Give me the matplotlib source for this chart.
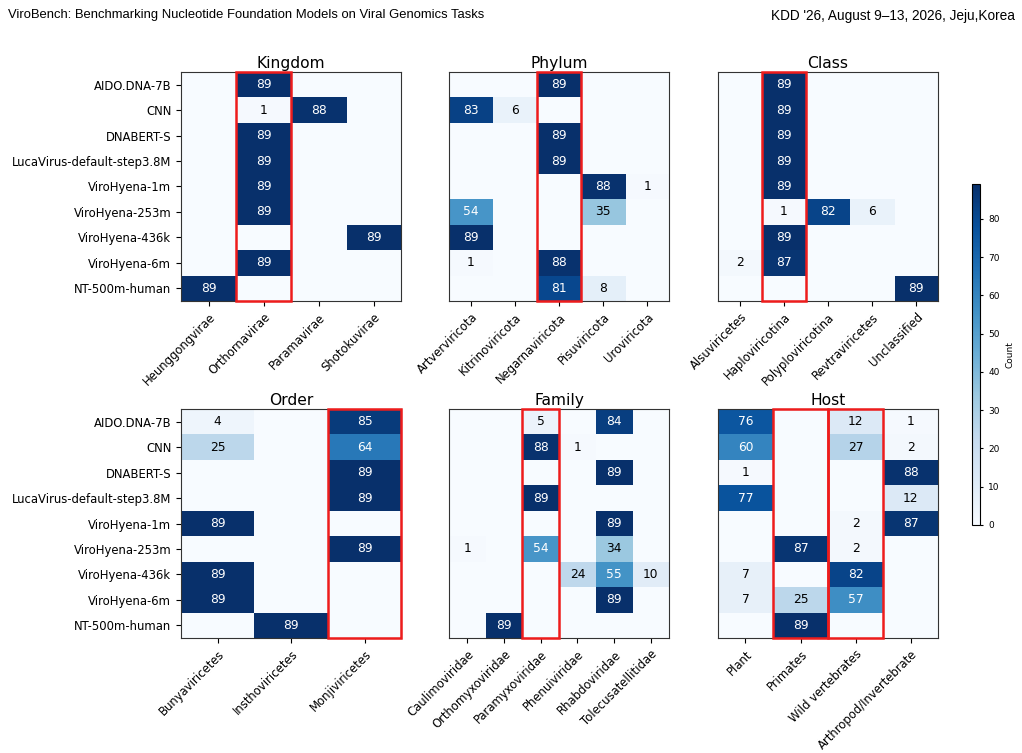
import matplotlib
matplotlib.use('Agg')
import matplotlib.pyplot as plt
import matplotlib.patches as patches
import numpy as np

# models (rows, shared by every panel)
models = ['AIDO.DNA-7B', 'CNN', 'DNABERT-S', 'LucaVirus-default-step3.8M',
          'ViroHyena-1m', 'ViroHyena-253m', 'ViroHyena-436k', 'ViroHyena-6m',
          'NT-500m-human']

# Kingdom
kingdom_cols = ['Heunggongvirae', 'Orthornavirae', 'Paramavirae', 'Shotokuvirae']
kingdom_vals = [[0, 89, 0, 0],
                [0, 1, 88, 0],
                [0, 89, 0, 0],
                [0, 89, 0, 0],
                [0, 89, 0, 0],
                [0, 89, 0, 0],
                [0, 0, 0, 89],
                [0, 89, 0, 0],
                [89, 0, 0, 0]]
kingdom_true = [1]

# Phylum
phylum_cols = ['Artverviricota', 'Kitrinoviricota', 'Negarnaviricota', 'Pisuviricota', 'Uroviricota']
phylum_vals = [[0, 0, 89, 0, 0],
               [83, 6, 0, 0, 0],
               [0, 0, 89, 0, 0],
               [0, 0, 89, 0, 0],
               [0, 0, 0, 88, 1],
               [54, 0, 0, 35, 0],
               [89, 0, 0, 0, 0],
               [1, 0, 88, 0, 0],
               [0, 0, 81, 8, 0]]
phylum_true = [2]

# Class
class_cols = ['Alsuviricetes', 'Haploviricotina', 'Polyploviricotina', 'Revtraviricetes', 'Unclassified']
class_vals = [[0, 89, 0, 0, 0],
              [0, 89, 0, 0, 0],
              [0, 89, 0, 0, 0],
              [0, 89, 0, 0, 0],
              [0, 89, 0, 0, 0],
              [0, 1, 82, 6, 0],
              [0, 89, 0, 0, 0],
              [2, 87, 0, 0, 0],
              [0, 0, 0, 0, 89]]
class_true = [1]

# Order
order_cols = ['Bunyaviricetes', 'Insthoviricetes', 'Monjiviricetes']
order_vals = [[4, 0, 85],
              [25, 0, 64],
              [0, 0, 89],
              [0, 0, 89],
              [89, 0, 0],
              [0, 0, 89],
              [89, 0, 0],
              [89, 0, 0],
              [0, 89, 0]]
order_true = [2]

# Family
family_cols = ['Caulimoviridae', 'Orthomyxoviridae', 'Paramyxoviridae', 'Phenuiviridae',
               'Rhabdoviridae', 'Tolecusatellitidae']
family_vals = [[0, 0, 5, 0, 84, 0],
               [0, 0, 88, 1, 0, 0],
               [0, 0, 0, 0, 89, 0],
               [0, 0, 89, 0, 0, 0],
               [0, 0, 0, 0, 89, 0],
               [1, 0, 54, 0, 34, 0],
               [0, 0, 0, 24, 55, 10],
               [0, 0, 0, 0, 89, 0],
               [0, 89, 0, 0, 0, 0]]
family_true = [2]

# Host
host_cols = ['Plant', 'Primates', 'Wild vertebrates', 'Arthropod/Invertebrate']
host_vals = [[76, 0, 12, 1],
             [60, 0, 27, 2],
             [1, 0, 0, 88],
             [77, 0, 0, 12],
             [0, 0, 2, 87],
             [0, 87, 2, 0],
             [7, 0, 82, 0],
             [7, 25, 57, 0],
             [0, 89, 0, 0]]
host_true = [1, 2]

panels = [('Kingdom', kingdom_cols, kingdom_vals, kingdom_true),
          ('Phylum', phylum_cols, phylum_vals, phylum_true),
          ('Class', class_cols, class_vals, class_true),
          ('Order', order_cols, order_vals, order_true),
          ('Family', family_cols, family_vals, family_true),
          ('Host', host_cols, host_vals, host_true)]

vmax = 89
fs = 8.4

fig = plt.figure(figsize=(10.22, 7.53), dpi=100)

# axes positions (figure fraction)
lefts = [0.1771, 0.4393, 0.7025]
bottoms = [0.6003, 0.1527]
w, h = 0.2155, 0.3041

im = None
for i, (title, cols, vals, true_idx) in enumerate(panels):
    r, c = divmod(i, 3)
    ax = fig.add_axes([lefts[c], bottoms[r], w, h])
    data = np.array(vals)
    im = ax.imshow(data, cmap='Blues', vmin=0, vmax=vmax, aspect='auto',
                   interpolation='nearest')
    for y in range(data.shape[0]):
        for x in range(data.shape[1]):
            v = data[y, x]
            if v > 0:
                ax.text(x, y, str(v), ha='center', va='center', fontsize=8.8,
                        color='white' if v > vmax / 2 else 'black')
    # red box on the correct column(s)
    for t in true_idx:
        ax.add_patch(patches.Rectangle((t - 0.5, -0.5), 1, data.shape[0],
                                       fill=False, edgecolor='#ee1c1c', lw=1.8,
                                       zorder=5, clip_on=False))
    ax.set_title(title, fontsize=11.2, pad=3)
    ax.set_xticks(range(len(cols)))
    ax.set_xticklabels(cols, rotation=45, ha='right', rotation_mode='anchor', fontsize=fs)
    ax.set_yticks(range(len(models)))
    if c == 0:
        ax.set_yticklabels(models, fontsize=fs)
    else:
        ax.set_yticklabels([])
        ax.tick_params(axis='y', length=0)
    for s in ax.spines.values():
        s.set_color('#333333')

# shared colorbar
cax = fig.add_axes([0.951, 0.3028, 0.0078, 0.4522])
cb = fig.colorbar(im, cax=cax)
cb.set_ticks(range(0, 90, 10))
cb.ax.tick_params(labelsize=6.5, length=2.5)
cb.set_label('Count', fontsize=6.5)

# page header
hdr = ['Liberation Sans', 'DejaVu Sans']
fig.text(0.008, 0.988, 'ViroBench: Benchmarking Nucleotide Foundation Models on Viral Genomics Tasks',
         ha='left', va='top', fontsize=9.4, family=hdr)
fig.text(0.993, 0.988, "KDD '26, August 9\u201313, 2026, Jeju,Korea",
         ha='right', va='top', fontsize=9.8, family=hdr)

fig.savefig('out.png', dpi=100)
